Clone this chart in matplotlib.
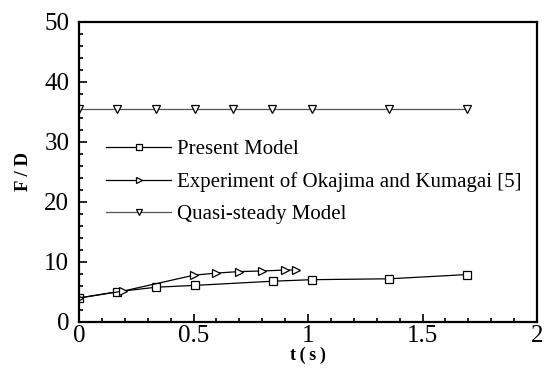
import matplotlib
matplotlib.use('Agg')
import matplotlib.pyplot as plt
from matplotlib.ticker import MultipleLocator

plt.rcParams['font.family'] = ['Liberation Serif', 'DejaVu Serif']

# Present model
t_present = [0.0, 0.168, 0.338, 0.507, 0.848, 1.017, 1.355, 1.693]
f_present = [4.0, 5.05, 5.8, 6.1, 6.8, 7.05, 7.2, 7.9]

# Okajima and Kumagai experiment
t_exp = [0.0, 0.193, 0.502, 0.600, 0.699, 0.797, 0.899, 0.948]
f_exp = [4.0, 5.15, 7.8, 8.15, 8.4, 8.5, 8.65, 8.65]

# Quasi-steady model
t_quasi = [0.0, 0.168, 0.337, 0.505, 0.674, 0.842, 1.017, 1.355, 1.693]
f_quasi = [35.5] * len(t_quasi)

fig = plt.figure(figsize=(5.44, 3.81), dpi=100)
ax = fig.add_axes([0.1452, 0.1549, 0.842, 0.7874])

ax.plot(t_present, f_present, color='black', lw=0.9, marker='s', ms=5.5,
        mfc='white', mec='black', mew=0.9, label='Present Model')
ax.plot(t_exp, f_exp, color='black', lw=0.9, marker='>', ms=6,
        mfc='white', mec='black', mew=0.9,
        label='Experiment of Okajima and Kumagai [5]')
ax.plot(t_quasi, f_quasi, color='#555555', lw=0.9, marker='v', ms=6,
        mfc='white', mec='black', mew=0.9, label='Quasi-steady Model')

ax.set_xlim(0, 2)
ax.set_ylim(0, 50)
ax.xaxis.set_major_locator(MultipleLocator(0.5))
ax.xaxis.set_minor_locator(MultipleLocator(0.1))
ax.yaxis.set_major_locator(MultipleLocator(10))
ax.yaxis.set_minor_locator(MultipleLocator(2))
ax.xaxis.set_major_formatter(plt.FuncFormatter(lambda v, p: f'{v:g}'))

ax.tick_params(which='both', direction='in', top=False, right=False,
               labelsize=18, width=1.2)
ax.tick_params(which='major', length=6)
ax.tick_params(which='minor', length=3)
ax.tick_params(axis='y', which='major', pad=7)
ax.tick_params(axis='x', which='major', pad=2)
for side in ['left', 'bottom', 'right', 'top']:
    ax.spines[side].set_linewidth(1.6)

ax.set_xlabel('t\u2009(\u2009s\u2009)', fontsize=13, fontweight='bold', labelpad=0)
ax.set_ylabel('F / D', fontsize=13.5, fontweight='bold', labelpad=9)

ax.legend(loc='upper left', bbox_to_anchor=(0.06, 0.607), frameon=False,
          fontsize=15, handlelength=3.1, handletextpad=0.3,
          labelspacing=0.6, borderpad=0, borderaxespad=0, markerscale=0.7)

fig.savefig('out.png', dpi=100)
